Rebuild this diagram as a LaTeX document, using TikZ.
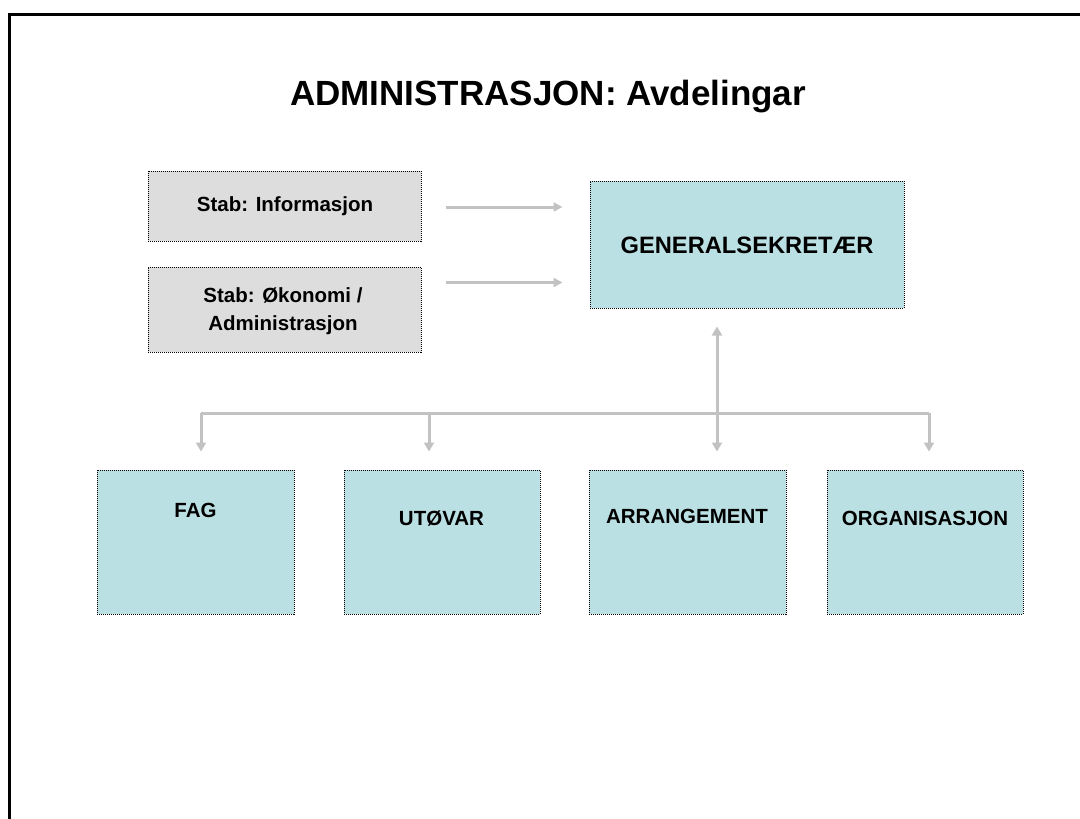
\documentclass[tikz,border=0pt]{standalone}
\usepackage{fontspec}
\setmainfont{Liberation Sans}
\usetikzlibrary{arrows.meta,calc}
\definecolor{boxblue}{RGB}{187,224,227}
\definecolor{boxgray}{RGB}{221,221,221}
\definecolor{linegray}{RGB}{194,194,194}
\begin{document}
\begin{tikzpicture}[x=1pt,y=-1pt,
  dotbox/.style={draw=black, line width=1pt, dash pattern=on 1pt off 1pt, inner sep=0pt, rectangle},
  bluebox/.style={dotbox, fill=boxblue},
  graybox/.style={dotbox, fill=boxgray},
  lbl/.style={font=\bfseries\fontsize{20.5}{28}\selectfont, inner sep=0pt, anchor=base, align=center},
  conn/.style={draw=linegray, line width=3pt},
  tipd/.tip={Triangle[width=10pt,length=9pt]},
  tips/.tip={Triangle[width=9pt,length=9pt]}
]
\useasboundingbox (0,0) rectangle (1080,819);
% frame
\draw[line width=3pt] (9,830) -- (9,14) -- (1090,14);
% title
\node[font=\bfseries\fontsize{35}{42}\selectfont, inner sep=0pt, anchor=base] (title) at (548,105) {ADMINISTRASJON: Avdelingar};
% staff boxes
\node[graybox, minimum width=273pt, minimum height=70pt] (si) at (284.5,206) {};
\node[graybox, minimum width=273pt, minimum height=85pt] (so) at (284.5,309.5) {};
\node[lbl] (sit) at (285,211) {Stab: Informasjon};
\node[lbl] (sot) at (283,330) {Stab: Økonomi /\\Administrasjon};
% general secretary
\node[bluebox, minimum width=314pt, minimum height=127pt] (gs) at (747,244.5) {};
\node[lbl, font=\bfseries\fontsize{23.7}{28}\selectfont] (gst) at (747,253) {GENERALSEKRETÆR};
% departments
\node[bluebox, minimum width=197pt, minimum height=144pt] (fag) at (195.5,542) {};
\node[bluebox, minimum width=196pt, minimum height=144pt] (ut) at (442,542) {};
\node[bluebox, minimum width=197pt, minimum height=144pt] (arr) at (687.5,542) {};
\node[bluebox, minimum width=196pt, minimum height=144pt] (org) at (925,542) {};
\node[lbl] (fagt) at (195.5,517) {FAG};
\node[lbl] (utt) at (441.5,525) {UTØVAR};
\node[lbl] (arrt) at (687,523) {ARRANGEMENT};
\node[lbl] (orgt) at (925,525) {ORGANISASJON};
% staff arrows
\coordinate (a1s) at ([xshift=24pt,yshift=-1pt]si.east);
\coordinate (a1e) at ($(gs.west |- a1s)+(-27,0)$);
\coordinate (a2s) at ([xshift=24pt,yshift=-16pt]so.north east);
\coordinate (a2e) at ($(gs.west |- a2s)+(-27,0)$);
\draw[conn,-tips] (a1s) -- (a1e);
\draw[conn,-tips] (a2s) -- (a2e);
% tree
\coordinate (bus) at (0,413);
\coordinate (t1) at ([xshift=5.5pt,yshift=18pt]fag.north);
\coordinate (t2) at ([xshift=-13pt,yshift=18pt]ut.north);
\coordinate (t3) at ([xshift=29.5pt,yshift=18pt]arr.north);
\coordinate (t4) at ([xshift=4pt,yshift=18pt]org.north);
\coordinate (gb) at ([xshift=-30pt,yshift=-18pt]gs.south);
\coordinate (b1) at (t1 |- bus);
\coordinate (b2) at (t2 |- bus);
\coordinate (b4) at (t4 |- bus);
\draw[conn] (b1) -- (b4);
\draw[conn,-tipd] (b1) -- (t1);
\draw[conn,-tipd] (b2) -- (t2);
\draw[conn,-tipd] (b4) -- (t4);
\draw[conn,tipd-tipd] (gb) -- (t3);
\end{tikzpicture}
\end{document}
